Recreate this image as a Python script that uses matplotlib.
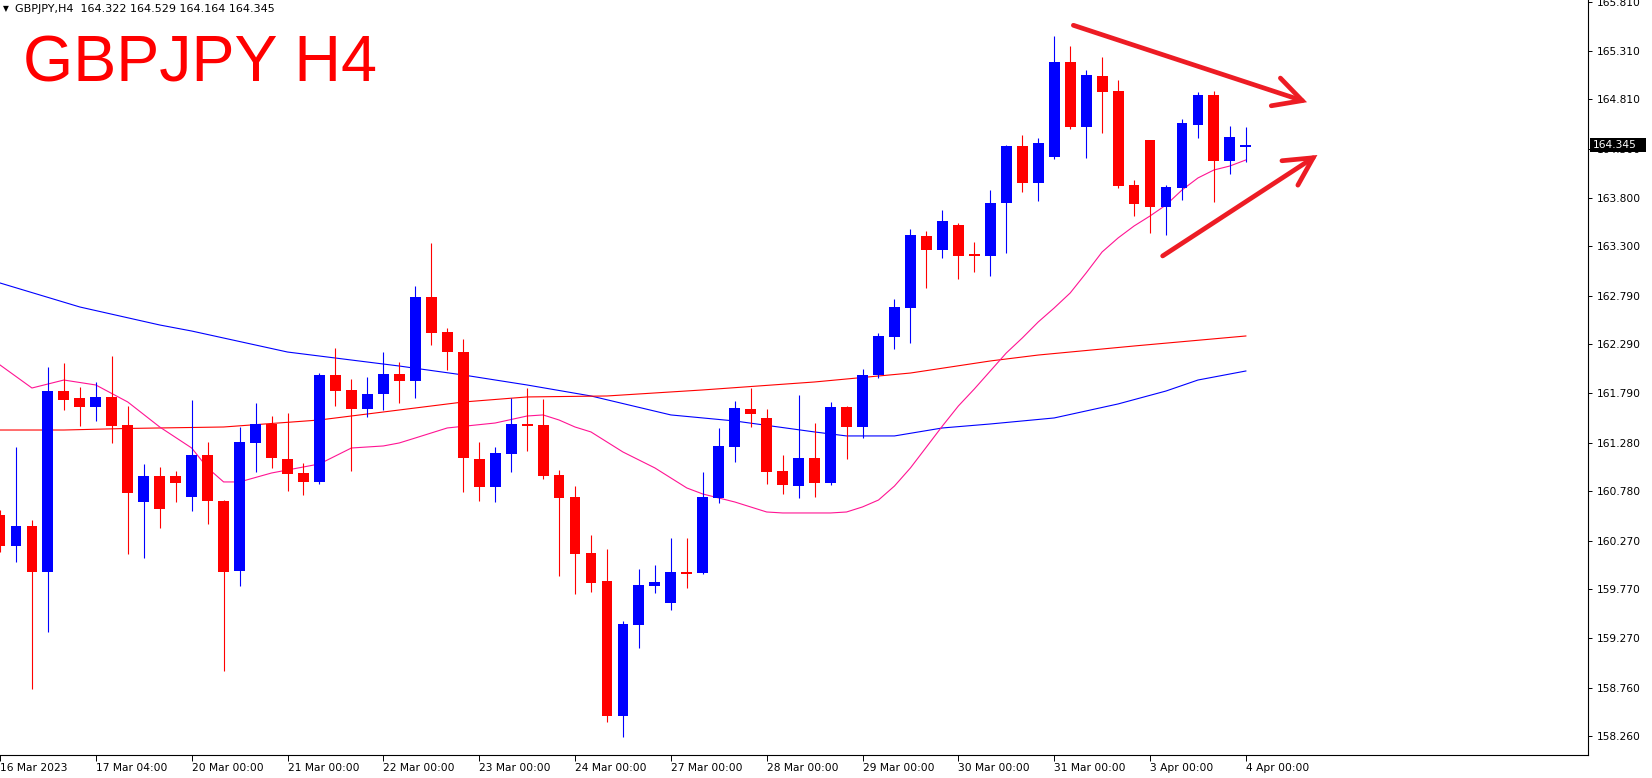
import numpy as np
import matplotlib
matplotlib.use("Agg")
import matplotlib.pyplot as plt
import matplotlib.transforms as mtransforms
from matplotlib.patches import Rectangle

W, H = 1652, 778

# H4 bars, index -1 is the bar clipped at the left edge
bar_idx = list(range(-1, 78))
opens = [160.535, 160.216, 160.422, 159.952, 161.810, 161.738, 161.646, 161.749, 161.461, 160.669,
         160.936, 160.936, 160.720, 161.152, 160.679, 159.959, 161.276, 161.471, 161.111, 160.967,
         160.875, 161.975, 161.821, 161.625, 161.779, 161.985, 161.916, 162.777, 162.417, 162.211,
         161.111, 160.826, 161.166, 161.471, 161.461, 160.947, 160.720, 160.144, 159.857, 158.463,
         159.407, 159.808, 159.633, 159.949, 159.942, 160.713, 161.234, 161.625, 161.533, 160.988,
         160.837, 161.121, 160.867, 161.646, 161.443, 161.975, 162.369, 162.667, 163.404, 163.263,
         163.517, 163.209, 163.202, 163.747, 164.330, 163.952, 164.220, 165.193, 164.528, 165.049,
         164.895, 163.929, 164.391, 163.706, 163.901, 164.549, 164.854, 164.178, 164.322]
highs = [160.587, 161.234, 160.484, 162.057, 162.098, 161.851, 161.903, 162.170, 161.656, 161.060,
         161.029, 160.988, 161.718, 161.286, 160.689, 161.440, 161.687, 161.553, 161.584, 161.070,
         161.995, 162.253, 161.934, 161.954, 162.211, 162.109, 162.890, 163.332, 162.458, 162.345,
         161.286, 161.234, 161.738, 161.841, 161.728, 160.998, 160.833, 160.330, 160.186, 159.445,
         159.980, 160.021, 160.299, 160.299, 160.977, 161.430, 161.708, 161.841, 161.625, 161.152,
         161.769, 161.481, 161.697, 161.656, 162.037, 162.407, 162.756, 163.476, 163.456, 163.672,
         163.538, 163.343, 163.877, 164.340, 164.443, 164.412, 165.461, 165.358, 165.111, 165.245,
         165.008, 163.980, 164.391, 163.929, 164.607, 164.885, 164.895, 164.535, 164.529]
lows = [160.155, 160.055, 158.743, 159.335, 161.615, 161.450, 161.505, 161.279, 160.134, 160.093,
        160.402, 160.669, 160.576, 160.443, 158.931, 159.805, 160.977, 161.019, 160.782, 160.741,
        160.854, 161.656, 160.988, 161.543, 161.615, 161.687, 161.741, 162.283, 162.026, 160.775,
        160.682, 160.672, 160.980, 161.196, 160.908, 159.911, 159.726, 159.746, 158.407, 158.257,
        159.171, 159.736, 159.561, 159.788, 159.932, 160.662, 161.080, 161.443, 160.857, 160.754,
        160.713, 160.723, 160.847, 161.114, 161.330, 161.947, 162.245, 162.307, 162.873, 163.181,
        162.965, 163.037, 162.996, 163.232, 163.860, 163.767, 164.199, 164.508, 164.209, 164.466,
        163.901, 163.613, 163.438, 163.418, 163.777, 164.415, 163.757, 164.045, 164.164]
closes = [160.216, 160.422, 159.952, 161.810, 161.721, 161.646, 161.749, 161.450, 160.761, 160.936,
          160.597, 160.864, 161.152, 160.679, 159.949, 161.286, 161.471, 161.121, 160.957, 160.875,
          161.975, 161.810, 161.625, 161.779, 161.985, 161.913, 162.777, 162.410, 162.214, 161.124,
          160.826, 161.173, 161.474, 161.454, 160.939, 160.713, 160.137, 159.839, 158.463, 159.414,
          159.815, 159.846, 159.949, 159.932, 160.720, 161.245, 161.636, 161.574, 160.980, 160.847,
          161.121, 160.867, 161.646, 161.443, 161.975, 162.376, 162.674, 163.414, 163.263, 163.558,
          163.202, 163.202, 163.744, 164.330, 163.952, 164.361, 165.193, 164.528, 165.060, 164.888,
          163.921, 163.736, 163.706, 163.908, 164.566, 164.854, 164.178, 164.422, 164.345]

# moving averages
fast_idx = [-1, 1, 3, 5, 7, 9, 11, 12, 13, 14, 16, 19, 21, 23, 24, 25, 27, 30, 32, 33, 34, 35, 36,
            37, 38, 40, 42, 43, 45, 47, 48, 51, 52, 53, 54, 55, 56, 57, 58, 59, 60, 61, 62, 63,
            64, 65, 66, 67, 68, 69, 70, 71, 72, 73, 74, 75, 76, 77]
fast_ma = [162.078, 161.841, 161.923, 161.872, 161.697, 161.440, 161.224, 161.019, 160.875, 160.875,
           160.967, 161.060, 161.224, 161.245, 161.276, 161.327, 161.430, 161.481, 161.553, 161.564,
           161.512, 161.440, 161.389, 161.286, 161.183, 161.019, 160.813, 160.751, 160.669, 160.566,
           160.556, 160.556, 160.566, 160.618, 160.689, 160.833, 161.019, 161.234, 161.450, 161.656,
           161.831, 162.016, 162.201, 162.355, 162.520, 162.664, 162.818, 163.024, 163.240, 163.384,
           163.507, 163.610, 163.723, 163.877, 164.001, 164.083, 164.124, 164.186]
red_idx = [-1, 3, 7, 13, 19, 24, 28, 32, 37, 43, 50, 56, 61, 64, 70, 77]
red_ma = [161.409, 161.409, 161.425, 161.440, 161.512, 161.615, 161.697, 161.749, 161.759, 161.821,
          161.903, 161.995, 162.119, 162.180, 162.273, 162.376]
blue_idx = [-1, 4, 9, 11, 17, 24, 28, 32, 36, 41, 45, 50, 52, 55, 58, 61, 65, 69, 72, 74, 77]
blue_ma = [162.921, 162.674, 162.489, 162.427, 162.211, 162.067, 161.975, 161.872, 161.759, 161.564,
           161.502, 161.389, 161.348, 161.348, 161.430, 161.471, 161.533, 161.677, 161.810, 161.923,
           162.016]

price_ticks = [165.810, 165.310, 164.810, 164.300, 163.800, 163.300, 162.790, 162.290, 161.790,
               161.280, 160.780, 160.270, 159.770, 159.270, 158.760, 158.260]
date_idx = [-1, 5, 11, 17, 23, 29, 35, 41, 47, 53, 59, 65, 71, 77]
date_labels = ["16 Mar 2023", "17 Mar 04:00", "20 Mar 00:00", "21 Mar 00:00", "22 Mar 00:00",
               "23 Mar 00:00", "24 Mar 00:00", "27 Mar 00:00", "28 Mar 00:00", "29 Mar 00:00",
               "30 Mar 00:00", "31 Mar 00:00", "3 Apr 00:00", "4 Apr 00:00"]

# hand drawn arrows (bar index, price)
arrow_down = [(66.2, 165.571), (80.83, 164.780)]
arrow_up = [(71.79, 163.199), (81.48, 164.237)]

BULL, BEAR = "#0000FF", "#FF0000"
ARROW = "#ED1C24"

fig = plt.figure(figsize=(W / 100, H / 100), dpi=100)
ax = fig.add_axes([0, 23 / H, 1588 / W, 755 / H])
ax.set_xlim(-0.83, 98.42)
ax.set_ylim(158.067, 165.831)

# moving averages behind the candles
ax.plot(blue_idx, blue_ma, color="#0000FF", lw=0.8, zorder=1)
ax.plot(red_idx, red_ma, color="#FF0000", lw=0.8, zorder=1)
ax.plot(fast_idx, fast_ma, color="#FF1493", lw=0.8, zorder=1)

o = np.array(opens)
c = np.array(closes)
cols = [BULL if cc > oo else BEAR for oo, cc in zip(opens, closes)]
ax.vlines(bar_idx, lows, highs, colors=cols, linewidth=0.8, zorder=2)
ax.bar(bar_idx, np.maximum(np.abs(c - o), 0.012), bottom=np.minimum(o, c),
       width=0.68, color=cols, linewidth=0, zorder=3)

for (x0, y0), (x1, y1) in [arrow_down, arrow_up]:
    ax.annotate("", xy=(x1, y1), xytext=(x0, y0), annotation_clip=False,
                arrowprops=dict(arrowstyle="->,head_length=2.0,head_width=1.05",
                                color=ARROW, lw=3.4, shrinkA=0, shrinkB=0,
                                capstyle="round", joinstyle="miter"))

for s in ["left", "top"]:
    ax.spines[s].set_visible(False)
for s in ["right", "bottom"]:
    ax.spines[s].set_linewidth(0.8)

ax.yaxis.tick_right()
ax.set_yticks(price_ticks)
ax.set_yticklabels([f"{v:.3f}" for v in price_ticks])
ax.tick_params(axis="y", direction="out", length=3, width=0.7, pad=3.5, labelsize=7.7)
ax.set_xticks(date_idx)
ax.set_xticklabels(date_labels)
for lbl in ax.get_xticklabels():
    lbl.set_horizontalalignment("left")
ax.tick_params(axis="x", direction="out", length=4, width=0.7, pad=2, labelsize=7.7)

# current price tag
last = closes[-1]
tr = mtransforms.blended_transform_factory(ax.transAxes, ax.transData)
ax.add_patch(Rectangle((1 + 2 / 1588, last - 0.072), 56 / 1588, 0.144, transform=tr,
                       facecolor="black", edgecolor="none", clip_on=False, zorder=10))
ax.text(1 + 5 / 1588, last, f"{last:.3f}", transform=tr, color="white", fontsize=7.7,
        va="center", ha="left", zorder=11, clip_on=False)

# header
fig.text(3 / W, 1 - 9 / H, "\u25BC", fontsize=5.5, va="center", ha="left")
fig.text(15 / W, 1 - 9 / H,
         f"GBPJPY,H4  {opens[-1]:.3f} {highs[-1]:.3f} {lows[-1]:.3f} {closes[-1]:.3f}",
         fontsize=8, va="center", ha="left")
fig.text(23 / W, 1 - 81 / H, "GBPJPY H4", fontsize=46.5, color="#FF0000",
         family="Liberation Sans", va="baseline", ha="left")

fig.savefig("out.png", dpi=100, facecolor="white")
